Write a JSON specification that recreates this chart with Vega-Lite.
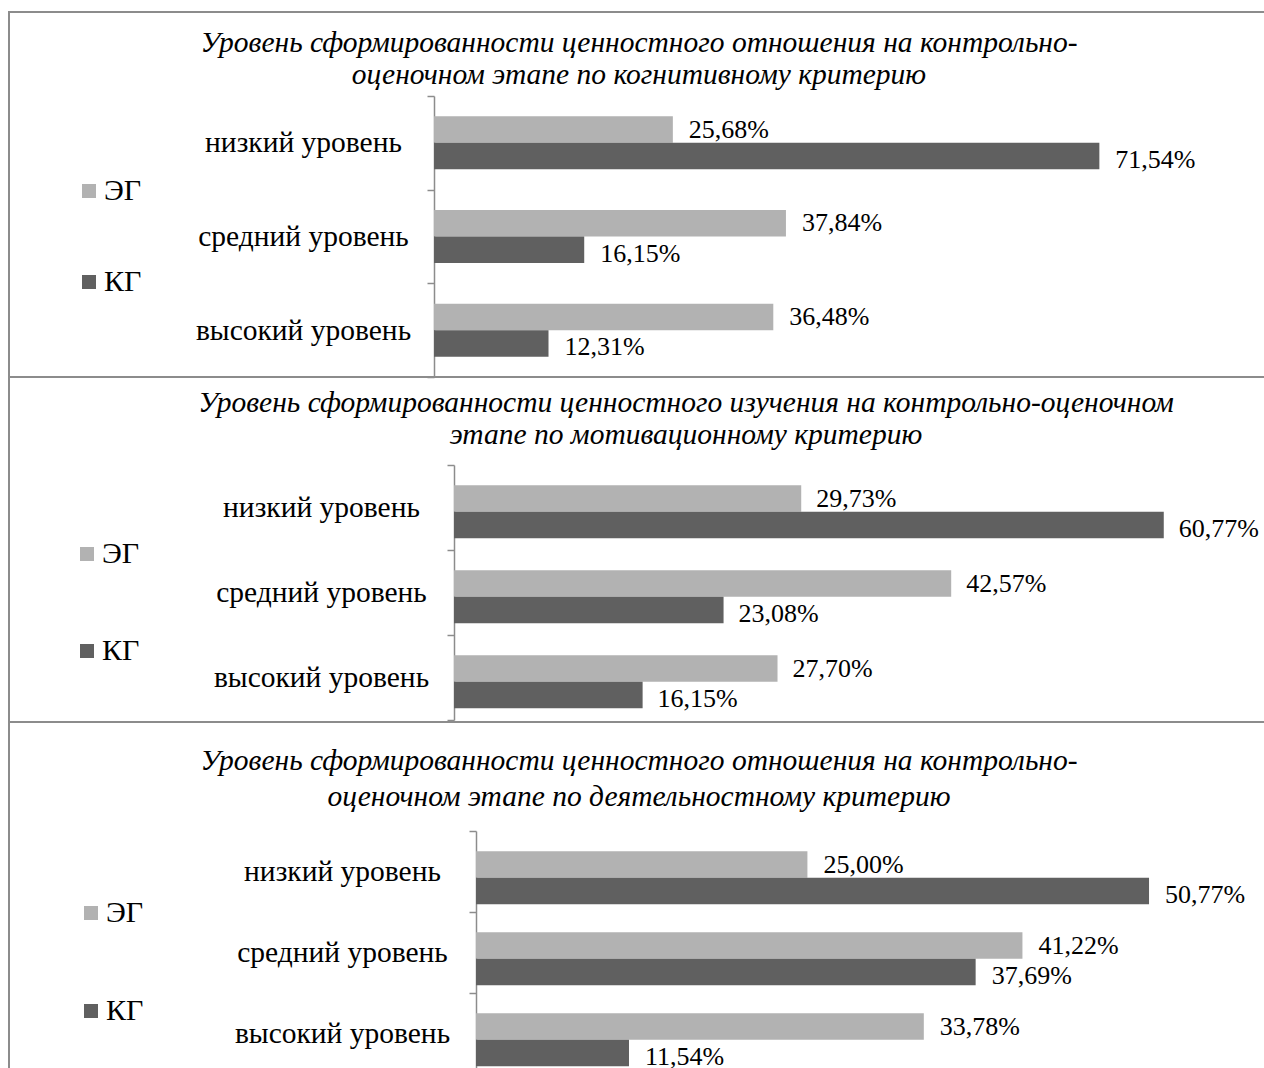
{
  "$schema": "https://vega.github.io/schema/vega-lite/v6.json",
  "padding": {"left": 8, "top": -4, "right": 0, "bottom": 0},
  "background": "white",
  "spacing": 0,
  "bounds": "flush",
  "resolve": {"scale": {"color": "independent"}, "legend": {"color": "independent"}},
  "config": {
    "locale": {"number": {"decimal": ",", "thousands": " ", "grouping": [3], "currency": ["", ""]}},
    "font": "Liberation Serif",
    "view": {"stroke": "#8c8c8c", "strokeWidth": 2},
    "axis": {
      "domainColor": "#8c8c8c", "domainWidth": 1.5,
      "tickColor": "#8c8c8c", "tickWidth": 1.5, "tickSize": 7, "tickBand": "extent",
      "labelFont": "Liberation Serif", "labelFontSize": 29.5, "labelColor": "black",
      "labelAlign": "center", "labelBaseline": "middle", "labelLimit": 500, "title": null
    },
    "legend": {
      "symbolType": "square", "symbolSize": 196, "symbolStrokeWidth": 0,
      "labelFont": "Liberation Serif", "labelFontSize": 30, "labelColor": "black",
      "labelOffset": 0, "padding": 0, "title": null
    },
    "title": {
      "font": "Liberation Serif", "fontStyle": "italic", "fontWeight": "normal",
      "fontSize": 29.5, "color": "black", "anchor": "middle", "frame": "group"
    },
    "text": {"font": "Liberation Serif", "fontSize": 26, "color": "black"}
  },
  "vconcat": [
    {
      "width": 1260, "height": 365,
      "title": {"text": ["Уровень сформированности ценностного отношения на контрольно-", "оценочном этапе по когнитивному критерию"], "lineHeight": 32, "offset": -93},
      "data": {"values": [
        {"level": "низкий уровень", "group": "ЭГ", "value": 0.2568},
        {"level": "низкий уровень", "group": "КГ", "value": 0.7154},
        {"level": "средний уровень", "group": "ЭГ", "value": 0.3784},
        {"level": "средний уровень", "group": "КГ", "value": 0.1615},
        {"level": "высокий уровень", "group": "ЭГ", "value": 0.3648},
        {"level": "высокий уровень", "group": "КГ", "value": 0.1231}
      ]},
      "encoding": {
        "y": {"field": "level", "type": "nominal", "sort": ["низкий уровень", "средний уровень", "высокий уровень"],
              "scale": {"range": [84, 365], "paddingInner": 0, "paddingOuter": 0},
              "axis": {"offset": -425, "labelPadding": 124}},
        "yOffset": {"field": "group", "type": "nominal", "sort": ["ЭГ", "КГ"], "scale": {"paddingInner": 0, "paddingOuter": 0.77}},
        "x": {"field": "value", "type": "quantitative", "scale": {"domain": [-0.457, 0.8978]}, "axis": null}
      },
      "layer": [
        {"mark": {"type": "bar"},
         "encoding": {"color": {"field": "group", "type": "nominal",
           "scale": {"domain": ["ЭГ", "КГ"], "range": ["#b2b2b2", "#606060"]},
           "legend": {"orient": "none", "legendX": 65, "legendY": 164, "rowPadding": 61}}}},
        {"transform": [{"filter": "datum.group === 'ЭГ'"}],
         "mark": {"type": "text", "align": "left", "baseline": "middle", "dx": 16, "dy": 0},
         "encoding": {"text": {"field": "value", "type": "quantitative", "format": ".2%"}}},
        {"transform": [{"filter": "datum.group === 'КГ'"}],
         "mark": {"type": "text", "align": "left", "baseline": "middle", "dx": 16, "dy": 4},
         "encoding": {"text": {"field": "value", "type": "quantitative", "format": ".2%"}}}
      ]
    },
    {
      "width": 1260, "height": 345,
      "title": {"text": ["Уровень сформированности ценностного изучения на контрольно-оценочном", "этапе по мотивационному критерию"], "lineHeight": 32, "offset": -88, "dx": 47},
      "data": {"values": [
        {"level": "низкий уровень", "group": "ЭГ", "value": 0.2973},
        {"level": "низкий уровень", "group": "КГ", "value": 0.6077},
        {"level": "средний уровень", "group": "ЭГ", "value": 0.4257},
        {"level": "средний уровень", "group": "КГ", "value": 0.2308},
        {"level": "высокий уровень", "group": "ЭГ", "value": 0.2770},
        {"level": "высокий уровень", "group": "КГ", "value": 0.1615}
      ]},
      "encoding": {
        "y": {"field": "level", "type": "nominal", "sort": ["низкий уровень", "средний уровень", "высокий уровень"],
              "scale": {"range": [88, 343], "paddingInner": 0, "paddingOuter": 0},
              "axis": {"offset": -445, "labelPadding": 126}},
        "yOffset": {"field": "group", "type": "nominal", "sort": ["ЭГ", "КГ"], "scale": {"paddingInner": 0, "paddingOuter": 0.77}},
        "x": {"field": "value", "type": "quantitative", "scale": {"domain": [-0.381, 0.6978]}, "axis": null}
      },
      "layer": [
        {"mark": {"type": "bar"},
         "encoding": {"color": {"field": "group", "type": "nominal",
           "scale": {"domain": ["ЭГ", "КГ"], "range": ["#b2b2b2", "#606060"]},
           "legend": {"orient": "none", "legendX": 63, "legendY": 162, "rowPadding": 67}}}},
        {"transform": [{"filter": "datum.group === 'ЭГ'"}],
         "mark": {"type": "text", "align": "left", "baseline": "middle", "dx": 15, "dy": 0},
         "encoding": {"text": {"field": "value", "type": "quantitative", "format": ".2%"}}},
        {"transform": [{"filter": "datum.group === 'КГ'"}],
         "mark": {"type": "text", "align": "left", "baseline": "middle", "dx": 15, "dy": 4},
         "encoding": {"text": {"field": "value", "type": "quantitative", "format": ".2%"}}}
      ]
    },
    {
      "width": 1260, "height": 352,
      "title": {"text": ["Уровень сформированности ценностного отношения на контрольно-", "оценочном этапе по деятельностному критерию"], "lineHeight": 36, "offset": -105},
      "data": {"values": [
        {"level": "низкий уровень", "group": "ЭГ", "value": 0.2500},
        {"level": "низкий уровень", "group": "КГ", "value": 0.5077},
        {"level": "средний уровень", "group": "ЭГ", "value": 0.4122},
        {"level": "средний уровень", "group": "КГ", "value": 0.3769},
        {"level": "высокий уровень", "group": "ЭГ", "value": 0.3378},
        {"level": "высокий уровень", "group": "КГ", "value": 0.1154}
      ]},
      "encoding": {
        "y": {"field": "level", "type": "nominal", "sort": ["низкий уровень", "средний уровень", "высокий уровень"],
              "scale": {"range": [109, 352], "paddingInner": 0, "paddingOuter": 0},
              "axis": {"offset": -467, "labelPadding": 127}},
        "yOffset": {"field": "group", "type": "nominal", "sort": ["ЭГ", "КГ"], "scale": {"paddingInner": 0, "paddingOuter": 0.76}},
        "x": {"field": "value", "type": "quantitative", "scale": {"domain": [-0.3523, 0.5982]}, "axis": null}
      },
      "layer": [
        {"mark": {"type": "bar"},
         "encoding": {"color": {"field": "group", "type": "nominal",
           "scale": {"domain": ["ЭГ", "КГ"], "range": ["#b2b2b2", "#606060"]},
           "legend": {"orient": "none", "legendX": 67, "legendY": 176, "rowPadding": 68}}}},
        {"transform": [{"filter": "datum.group === 'ЭГ'"}],
         "mark": {"type": "text", "align": "left", "baseline": "middle", "dx": 16, "dy": 0},
         "encoding": {"text": {"field": "value", "type": "quantitative", "format": ".2%"}}},
        {"transform": [{"filter": "datum.group === 'КГ'"}],
         "mark": {"type": "text", "align": "left", "baseline": "middle", "dx": 16, "dy": 4},
         "encoding": {"text": {"field": "value", "type": "quantitative", "format": ".2%"}}}
      ]
    }
  ]
}
